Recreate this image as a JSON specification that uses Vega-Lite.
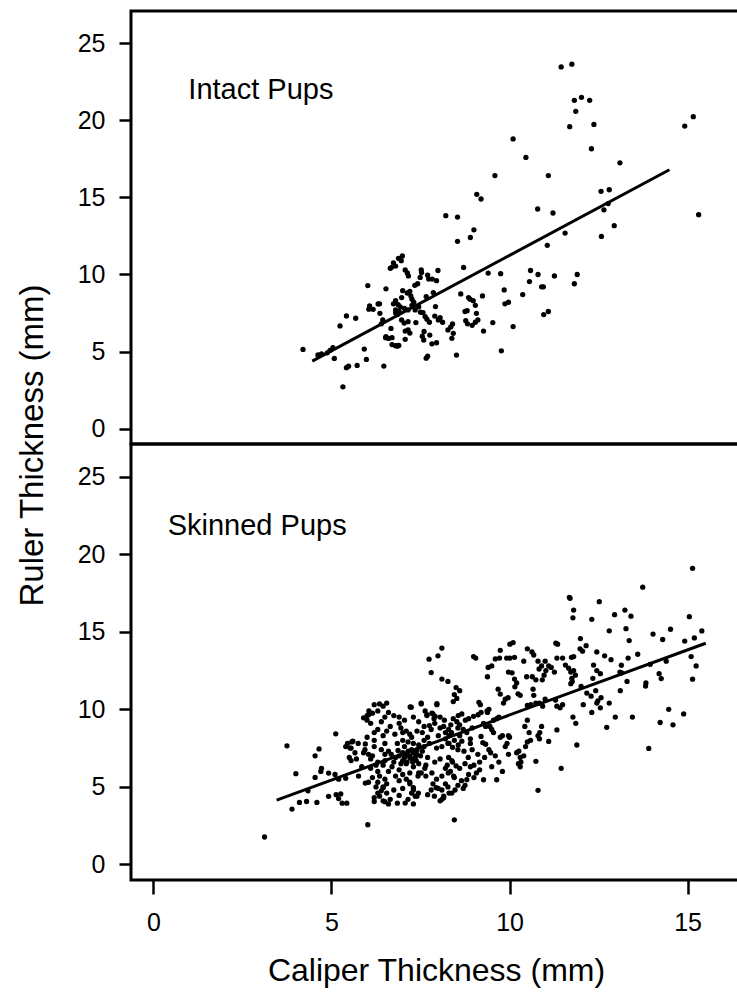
{
"$schema": "https://vega.github.io/schema/vega-lite/v6.json",
"background": "white",
"padding": {"left": 14, "top": 9, "right": 0, "bottom": 0},
"spacing": 0,
"bounds": "flush",
"config": {
  "view": {"stroke": "black", "strokeWidth": 3},
  "font": "Liberation Sans",
  "axis": {"grid": false, "domain": false, "tickColor": "black", "tickWidth": 2.5, "labelColor": "black", "labelFont": "Liberation Sans", "titleFont": "Liberation Sans", "titleColor": "black", "titleFontWeight": "normal", "labelFontSize": 25}
},
"datasets": {
"intact": [
{"x":4.20,"y":5.14},{"x":4.62,"y":4.78},{"x":4.72,"y":4.85},{"x":4.88,"y":4.92},{"x":4.96,"y":5.08},{"x":5.04,"y":5.25},{"x":5.08,"y":4.55},{"x":5.24,"y":6.66},{"x":5.42,"y":7.31},{"x":5.68,"y":7.16},{"x":5.32,"y":2.71},{"x":5.42,"y":3.95},{"x":5.48,"y":4.05},{"x":5.72,"y":4.1},{"x":5.92,"y":5.16},{"x":5.98,"y":4.49},{"x":6.02,"y":9.28},{"x":6.07,"y":7.96},{"x":6.17,"y":7.74},{"x":6.31,"y":8.09},{"x":6.36,"y":7.48},{"x":6.44,"y":7.05},{"x":6.47,"y":4.06},{"x":6.53,"y":9.07},{"x":6.53,"y":5.97},{"x":6.6,"y":5.85},{"x":6.68,"y":10.45},{"x":6.8,"y":10.55},{"x":6.88,"y":11.05},{"x":6.96,"y":10.9},{"x":6.99,"y":11.2},{"x":6.7,"y":5.45},{"x":6.8,"y":5.38},{"x":6.89,"y":5.4},{"x":6.74,"y":8.1},{"x":6.8,"y":8.3},{"x":6.87,"y":8.05},{"x":6.93,"y":7.9},{"x":6.97,"y":8.5},{"x":6.85,"y":7.4},{"x":6.8,"y":7.5},{"x":6.97,"y":7.05},{"x":7.04,"y":6.85},{"x":6.67,"y":6.5},{"x":7.07,"y":10.3},{"x":7.13,"y":10.1},{"x":7.07,"y":5.79},{"x":7.07,"y":6.33},{"x":7.15,"y":6.94},{"x":7.15,"y":7.7},{"x":7.26,"y":8.0},{"x":7.31,"y":8.2},{"x":7.23,"y":8.6},{"x":7.26,"y":8.4},{"x":7.34,"y":9.3},{"x":7.42,"y":9.4},{"x":7.16,"y":9.91},{"x":7.37,"y":6.88},{"x":7.49,"y":9.81},{"x":7.53,"y":10.13},{"x":7.57,"y":7.53},{"x":7.59,"y":5.75},{"x":7.66,"y":4.57},{"x":7.7,"y":4.7},{"x":7.63,"y":7.27},{"x":7.66,"y":8.57},{"x":7.73,"y":9.7},{"x":7.83,"y":9.7},{"x":7.76,"y":6.07},{"x":7.86,"y":8.83},{"x":7.92,"y":7.92},{"x":7.95,"y":5.57},{"x":7.99,"y":10.26},{"x":8.05,"y":7.2},{"x":8.12,"y":6.9},{"x":8.21,"y":13.82},{"x":8.27,"y":6.4},{"x":8.35,"y":6.6},{"x":8.4,"y":6.79},{"x":8.38,"y":5.86},{"x":8.42,"y":6.18},{"x":8.51,"y":4.77},{"x":8.54,"y":12.15},{"x":8.54,"y":13.73},{"x":8.63,"y":8.74},{"x":8.71,"y":10.46},{"x":8.75,"y":7.6},{"x":8.81,"y":7.65},{"x":8.77,"y":7.0},{"x":8.82,"y":6.8},{"x":8.85,"y":8.5},{"x":8.89,"y":8.4},{"x":8.9,"y":12.4},{"x":9.0,"y":12.9},{"x":8.98,"y":8.3},{"x":9.04,"y":8.0},{"x":8.95,"y":6.7},{"x":9.04,"y":6.9},{"x":9.08,"y":15.2},{"x":9.2,"y":14.9},{"x":9.07,"y":7.48},{"x":9.11,"y":7.05},{"x":9.27,"y":6.33},{"x":9.24,"y":8.61},{"x":9.4,"y":10.09},{"x":9.53,"y":6.88},{"x":9.59,"y":16.42},{"x":9.75,"y":10.05},{"x":9.77,"y":5.05},{"x":9.85,"y":9.0},{"x":9.87,"y":8.1},{"x":9.97,"y":8.2},{"x":10.1,"y":6.62},{"x":10.1,"y":18.8},{"x":10.37,"y":8.7},{"x":10.46,"y":17.6},{"x":10.59,"y":10.26},{"x":10.56,"y":9.54},{"x":10.79,"y":14.25},{"x":10.8,"y":10.0},{"x":10.9,"y":9.2},{"x":10.95,"y":9.2},{"x":10.96,"y":7.4},{"x":11.09,"y":7.6},{"x":11.09,"y":16.42},{"x":11.06,"y":11.89},{"x":11.22,"y":13.99},{"x":11.26,"y":9.91},{"x":11.45,"y":23.47},{"x":11.75,"y":23.65},{"x":11.56,"y":12.69},{"x":11.69,"y":19.59},{"x":11.82,"y":21.3},{"x":12.02,"y":21.5},{"x":12.25,"y":21.3},{"x":11.86,"y":20.59},{"x":11.82,"y":9.4},{"x":11.9,"y":10.0},{"x":12.3,"y":18.16},{"x":12.37,"y":19.74},{"x":12.57,"y":15.4},{"x":12.8,"y":15.5},{"x":12.58,"y":12.47},{"x":12.65,"y":14.2},{"x":12.77,"y":14.6},{"x":12.94,"y":13.17},{"x":13.1,"y":17.25},{"x":14.92,"y":19.63},{"x":15.16,"y":20.24},{"x":15.31,"y":13.88},
{"x":6.65,"y":10.4},{"x":6.74,"y":10.75},{"x":7.0,"y":8.95},{"x":7.13,"y":8.8},{"x":7.2,"y":8.9},{"x":6.8,"y":7.7},{"x":6.9,"y":7.6},{"x":7.05,"y":7.8},{"x":7.35,"y":7.7},{"x":7.45,"y":7.9},{"x":7.5,"y":7.55},{"x":7.68,"y":7.1},{"x":7.75,"y":6.9},{"x":7.9,"y":7.3},{"x":8.0,"y":7.05},{"x":7.15,"y":6.4},{"x":7.2,"y":6.2},{"x":7.55,"y":6.0},{"x":7.6,"y":6.3},{"x":7.82,"y":5.5},{"x":7.7,"y":9.95},{"x":7.95,"y":9.6},{"x":7.52,"y":10.3},{"x":6.05,"y":7.75},{"x":6.35,"y":8.1},{"x":6.4,"y":6.8},{"x":6.52,"y":5.9},{"x":6.7,"y":5.9},{"x":6.85,"y":5.35}
],
"skinned": [
{"x":3.12,"y":1.77},{"x":3.75,"y":7.65},{"x":3.89,"y":3.57},{"x":4.0,"y":5.85},{"x":4.1,"y":4.0},{"x":4.3,"y":4.06},{"x":4.54,"y":7.0},{"x":4.65,"y":7.45},{"x":4.59,"y":4.0},{"x":4.34,"y":4.75},{"x":4.54,"y":5.61},{"x":4.7,"y":6.0},{"x":4.72,"y":6.2},{"x":4.92,"y":5.89},{"x":4.92,"y":4.39},{"x":5.1,"y":5.8},{"x":5.12,"y":8.42},{"x":5.13,"y":4.5},{"x":5.26,"y":4.55},{"x":5.2,"y":4.25},{"x":5.3,"y":3.95},{"x":5.2,"y":5.5},{"x":5.4,"y":5.55},{"x":5.43,"y":3.95},{"x":5.4,"y":7.6},{"x":5.45,"y":7.8},{"x":5.55,"y":7.5},{"x":5.6,"y":7.95},{"x":5.76,"y":5.7},{"x":5.9,"y":7.2},{"x":5.95,"y":7.77},{"x":5.95,"y":5.25},{"x":6.04,"y":5.3},{"x":6.02,"y":2.56},{"x":6.0,"y":9.6},{"x":6.05,"y":9.9},{"x":6.15,"y":9.75},{"x":6.2,"y":10.3},{"x":6.35,"y":10.35},{"x":6.45,"y":10.2},{"x":6.55,"y":10.4},{"x":6.2,"y":4.06},{"x":6.3,"y":4.6},{"x":6.4,"y":4.75},{"x":6.45,"y":4.95},
{"x":5.9,"y":9.45},{"x":6.04,"y":9.65},{"x":6.0,"y":9.3},{"x":7.21,"y":10.15},{"x":7.52,"y":10.35},{"x":7.96,"y":10.3},{"x":6.9,"y":9.1},{"x":6.95,"y":8.8},{"x":7.1,"y":8.6},{"x":7.2,"y":8.4},{"x":7.25,"y":8.2},{"x":7.0,"y":8.5},{"x":6.2,"y":8.5},{"x":6.3,"y":8.7},{"x":6.45,"y":8.3},{"x":6.55,"y":8.6},{"x":6.65,"y":8.9},{"x":6.78,"y":8.4},{"x":7.63,"y":9.9},{"x":7.68,"y":9.6},{"x":7.85,"y":9.7},{"x":7.88,"y":9.4},{"x":7.8,"y":8.7},{"x":8.05,"y":8.8},{"x":8.2,"y":8.5},{"x":8.3,"y":8.3},{"x":5.57,"y":7.9},{"x":5.75,"y":7.8},{"x":5.52,"y":7.5},{"x":5.66,"y":7.2},{"x":5.94,"y":7.4},{"x":6.04,"y":7.1},{"x":5.5,"y":6.9},{"x":5.55,"y":6.7},{"x":6.2,"y":7.6},{"x":6.4,"y":7.4},{"x":6.5,"y":7.8},{"x":6.15,"y":7.0},{"x":6.3,"y":6.6},{"x":6.5,"y":6.7},{"x":6.68,"y":7.1},{"x":6.87,"y":7.35},{"x":7.05,"y":7.6},{"x":7.25,"y":7.4},{"x":6.1,"y":6.2},{"x":6.3,"y":6.0},{"x":6.45,"y":6.4},{"x":6.35,"y":5.7},{"x":6.15,"y":5.6},{"x":6.3,"y":5.3},{"x":6.7,"y":6.3},{"x":6.9,"y":6.1},{"x":7.1,"y":6.5},{"x":7.3,"y":6.3},{"x":7.45,"y":6.5},{"x":7.2,"y":6.9},{"x":7.4,"y":7.1},{"x":7.6,"y":7.6},{"x":7.75,"y":7.8},{"x":7.95,"y":7.5},{"x":8.1,"y":7.6},{"x":8.3,"y":7.8},{"x":8.45,"y":8.0},{"x":7.7,"y":6.9},{"x":7.9,"y":6.6},{"x":8.05,"y":6.8},{"x":8.25,"y":6.4},{"x":8.4,"y":6.6},{"x":6.55,"y":5.2},{"x":6.75,"y":4.8},{"x":6.65,"y":4.2},{"x":6.5,"y":4.05},{"x":6.6,"y":3.9},{"x":6.45,"y":4.1},{"x":7.2,"y":5.3},{"x":7.3,"y":4.8},{"x":7.25,"y":4.6},{"x":7.4,"y":4.4},{"x":7.45,"y":5.9},{"x":7.65,"y":5.7},{"x":7.82,"y":5.9},{"x":7.95,"y":5.5},{"x":8.1,"y":5.7},{"x":8.28,"y":5.9},{"x":8.45,"y":5.6},{"x":8.0,"y":4.9},{"x":8.15,"y":4.4},{"x":8.3,"y":4.6},{"x":8.1,"y":4.2},{"x":7.07,"y":3.96},
{"x":11.68,"y":17.22},{"x":11.8,"y":16.4},{"x":11.78,"y":15.9},{"x":7.74,"y":13.23},{"x":7.99,"y":13.45},{"x":8.1,"y":13.95},{"x":7.8,"y":12.37},{"x":8.1,"y":11.95},{"x":8.27,"y":11.8},{"x":8.99,"y":13.4},{"x":9.05,"y":13.3},{"x":8.5,"y":11.4},{"x":8.6,"y":11.2},{"x":8.45,"y":10.95},{"x":8.52,"y":10.7},{"x":8.42,"y":10.5},{"x":7.24,"y":10.14},{"x":7.52,"y":10.4},{"x":7.96,"y":10.36},{"x":9.14,"y":10.45},{"x":9.18,"y":10.3},{"x":9.42,"y":10.0},{"x":9.38,"y":9.8},{"x":9.4,"y":12.7},{"x":9.5,"y":12.8},{"x":9.38,"y":12.1},{"x":9.6,"y":13.25},{"x":9.72,"y":13.3},{"x":9.74,"y":13.8},{"x":9.92,"y":13.3},{"x":10.01,"y":13.3},{"x":10.14,"y":13.35},{"x":10.01,"y":14.2},{"x":10.1,"y":14.3},{"x":9.97,"y":12.4},{"x":10.07,"y":12.35},{"x":10.14,"y":11.95},{"x":10.2,"y":11.7},{"x":10.15,"y":11.45},{"x":9.68,"y":11.3},{"x":9.74,"y":10.98},{"x":9.88,"y":10.65},{"x":9.96,"y":10.75},{"x":9.83,"y":10.4},{"x":10.24,"y":11.0},{"x":10.3,"y":10.9},{"x":10.4,"y":13.1},{"x":10.5,"y":13.9},{"x":10.63,"y":13.7},{"x":10.68,"y":13.5},{"x":10.48,"y":12.1},{"x":10.64,"y":12.1},{"x":10.74,"y":11.9},{"x":10.66,"y":11.3},{"x":10.68,"y":10.9},{"x":10.8,"y":13.1},{"x":10.9,"y":12.8},{"x":11.0,"y":13.1},{"x":10.83,"y":12.6},{"x":11.02,"y":12.5},{"x":10.97,"y":12.2},{"x":10.92,"y":11.9},{"x":11.1,"y":12.8},{"x":11.17,"y":12.7},{"x":11.26,"y":12.4},{"x":11.0,"y":10.66},{"x":11.3,"y":14.26},{"x":11.35,"y":14.2},{"x":11.33,"y":13.3},{"x":11.49,"y":13.3},{"x":11.57,"y":12.85},{"x":11.66,"y":12.65},{"x":11.8,"y":12.5},{"x":11.75,"y":12.0},{"x":11.85,"y":12.2},{"x":11.8,"y":13.4},{"x":11.78,"y":9.5},{"x":11.86,"y":9.1},{"x":11.89,"y":7.7},{"x":11.33,"y":10.2},{"x":11.42,"y":10.1},{"x":11.49,"y":10.3},{"x":11.29,"y":10.6},{"x":10.5,"y":10.25},{"x":10.6,"y":10.3},{"x":10.74,"y":10.4},{"x":10.84,"y":10.4},{"x":10.93,"y":10.2},{"x":10.5,"y":9.3},{"x":10.43,"y":8.9},{"x":10.55,"y":8.5},{"x":10.5,"y":7.9},{"x":10.59,"y":8.0},{"x":10.45,"y":7.6},{"x":10.4,"y":7.0},{"x":10.3,"y":6.9},{"x":10.25,"y":6.5},{"x":10.3,"y":6.3},{"x":10.8,"y":8.3},{"x":10.85,"y":8.5},{"x":10.9,"y":8.9},{"x":10.84,"y":8.1},{"x":11.1,"y":7.93},{"x":11.33,"y":8.67},{"x":10.74,"y":6.64},{"x":11.45,"y":6.2},{"x":10.8,"y":4.78},{"x":10.2,"y":7.2},{"x":10.26,"y":7.3},{"x":10.32,"y":6.6},{"x":9.97,"y":8.3},{"x":10.0,"y":8.2},{"x":9.8,"y":8.3},{"x":9.74,"y":8.2},{"x":9.97,"y":7.1},{"x":9.88,"y":7.6},{"x":9.93,"y":7.8},{"x":9.5,"y":8.7},{"x":9.55,"y":8.5},{"x":9.45,"y":8.9},{"x":9.55,"y":9.3},{"x":9.64,"y":9.4},{"x":9.7,"y":9.5},{"x":9.27,"y":9.1},{"x":9.33,"y":8.9},{"x":9.2,"y":8.25},{"x":9.25,"y":7.85},{"x":9.33,"y":7.75},{"x":9.42,"y":7.4},{"x":9.47,"y":7.2},{"x":9.11,"y":7.1},{"x":9.16,"y":6.6},{"x":9.16,"y":6.1},{"x":9.07,"y":5.9},{"x":9.0,"y":5.6},{"x":9.27,"y":5.46},{"x":9.64,"y":5.46},{"x":8.8,"y":5.46},{"x":8.75,"y":5.1},{"x":8.7,"y":4.9},{"x":8.45,"y":2.88},{"x":8.9,"y":7.8},{"x":8.95,"y":7.4},{"x":8.84,"y":6.9},{"x":8.6,"y":8.3},{"x":8.66,"y":7.95},{"x":8.56,"y":7.7},{"x":8.55,"y":7.4},{"x":8.72,"y":7.3},{"x":8.29,"y":8.7},{"x":8.37,"y":8.5},{"x":8.2,"y":8.1},{"x":8.27,"y":7.8},{"x":8.4,"y":7.55},{"x":8.76,"y":9.3},{"x":8.85,"y":9.4},{"x":8.95,"y":8.8},{"x":9.12,"y":9.65},{"x":8.99,"y":9.55},{"x":9.2,"y":9.8},{"x":9.37,"y":9.9},{"x":8.56,"y":9.6},{"x":8.66,"y":9.7},{"x":8.52,"y":9.2},{"x":8.42,"y":9.4},{"x":8.05,"y":9.5},{"x":8.17,"y":9.3},{"x":7.91,"y":9.55},{"x":7.82,"y":9.75},{"x":7.68,"y":9.65},
{"x":8.29,"y":6.9},{"x":8.38,"y":6.7},{"x":8.2,"y":6.2},{"x":8.34,"y":6.0},{"x":8.43,"y":5.7},{"x":8.2,"y":5.2},{"x":8.27,"y":5.0},{"x":8.1,"y":4.8},{"x":8.38,"y":4.6},{"x":8.47,"y":4.8},{"x":8.15,"y":4.3},{"x":8.05,"y":4.1},{"x":7.85,"y":5.2},{"x":7.94,"y":4.95},{"x":7.8,"y":4.8},{"x":7.7,"y":4.5},{"x":7.89,"y":4.4},{"x":7.35,"y":4.4},{"x":7.44,"y":4.6},{"x":7.3,"y":4.95},{"x":7.2,"y":5.2},{"x":7.52,"y":5.9},{"x":7.62,"y":6.2},{"x":7.43,"y":5.7},
{"x":15.14,"y":19.09},{"x":13.74,"y":17.87},{"x":12.52,"y":16.94},{"x":11.7,"y":17.16},{"x":12.31,"y":15.8},{"x":12.95,"y":16.1},{"x":13.24,"y":16.4},{"x":13.41,"y":16.0},{"x":13.27,"y":15.2},{"x":12.8,"y":15.06},{"x":11.99,"y":14.56},{"x":14.03,"y":14.85},{"x":14.52,"y":15.16},{"x":15.05,"y":15.97},{"x":15.4,"y":15.05},{"x":15.19,"y":14.6},{"x":14.92,"y":14.4},{"x":14.3,"y":14.5},{"x":13.36,"y":14.43},{"x":12.15,"y":14.1},{"x":11.98,"y":13.9},{"x":12.05,"y":13.75},{"x":11.74,"y":13.35},{"x":12.45,"y":13.7},{"x":12.67,"y":13.45},{"x":12.85,"y":13.2},{"x":12.36,"y":12.85},{"x":12.45,"y":12.5},{"x":12.55,"y":12.3},{"x":12.34,"y":12.0},{"x":13.33,"y":13.3},{"x":13.6,"y":13.55},{"x":13.14,"y":12.84},{"x":13.1,"y":12.4},{"x":13.15,"y":12.35},{"x":13.95,"y":12.9},{"x":14.4,"y":13.1},{"x":15.1,"y":13.4},{"x":15.24,"y":12.8},{"x":14.2,"y":12.3},{"x":14.26,"y":11.98},{"x":15.14,"y":11.94},{"x":13.83,"y":11.7},{"x":13.82,"y":11.5},{"x":13.3,"y":11.8},{"x":13.11,"y":11.2},{"x":11.72,"y":12.4},{"x":11.76,"y":11.8},{"x":11.72,"y":11.65},{"x":12.01,"y":11.47},{"x":12.17,"y":11.05},{"x":12.29,"y":10.85},{"x":12.42,"y":11.2},{"x":12.48,"y":10.55},{"x":12.57,"y":10.75},{"x":12.55,"y":10.1},{"x":12.45,"y":10.4},{"x":12.07,"y":10.3},{"x":12.31,"y":9.8},{"x":12.8,"y":10.4},{"x":12.97,"y":9.5},{"x":13.45,"y":9.5},{"x":12.73,"y":8.84},{"x":14.47,"y":10.0},{"x":14.89,"y":9.7},{"x":14.23,"y":9.15},{"x":14.59,"y":9.0},{"x":13.91,"y":7.48},
{"x":6.9,"y":7.0},{"x":7.0,"y":7.2},{"x":7.05,"y":6.9},{"x":7.1,"y":7.1},{"x":7.15,"y":7.3},{"x":7.2,"y":7.0},{"x":7.25,"y":6.8},{"x":7.3,"y":7.2},{"x":7.35,"y":6.9},{"x":7.4,"y":7.4},{"x":7.0,"y":6.7},{"x":6.95,"y":6.5},{"x":7.12,"y":6.6},{"x":7.28,"y":6.6},{"x":7.38,"y":6.7},{"x":7.5,"y":7.0},{"x":7.55,"y":7.3},{"x":7.45,"y":7.7},{"x":7.3,"y":7.8},{"x":7.15,"y":7.9},{"x":7.0,"y":8.0},{"x":6.85,"y":7.8},{"x":6.8,"y":6.9},{"x":6.75,"y":6.6},{"x":7.6,"y":8.0},{"x":7.7,"y":8.2},{"x":7.55,"y":8.5},{"x":7.4,"y":8.6},{"x":7.65,"y":6.4},{"x":6.6,"y":7.3},{"x":6.5,"y":7.1},{"x":6.6,"y":6.0},{"x":6.8,"y":5.7},{"x":7.0,"y":5.8},{"x":7.2,"y":5.9},{"x":7.1,"y":5.5},{"x":6.9,"y":5.4},{"x":6.4,"y":9.2},{"x":6.5,"y":9.5},{"x":6.6,"y":9.8},{"x":6.75,"y":9.6},{"x":6.3,"y":9.9},{"x":6.1,"y":9.1},{"x":6.9,"y":9.5},{"x":7.05,"y":9.3},{"x":7.3,"y":9.5},{"x":7.45,"y":9.2},{"x":7.6,"y":8.9},{"x":7.75,"y":8.95},{"x":6.2,"y":8.0},{"x":6.0,"y":8.2},{"x":6.1,"y":6.8},{"x":5.85,"y":6.3},{"x":5.7,"y":6.8},{"x":6.25,"y":6.4},{"x":6.45,"y":5.0},{"x":6.2,"y":4.3},{"x":6.35,"y":4.4},{"x":6.55,"y":4.6},{"x":6.9,"y":4.45},{"x":7.0,"y":4.9},{"x":7.15,"y":4.2},{"x":7.3,"y":3.9},{"x":6.85,"y":3.95},{"x":6.25,"y":5.0},{"x":6.5,"y":5.5},{"x":8.0,"y":8.3},{"x":8.15,"y":8.9},{"x":7.9,"y":9.1},{"x":8.35,"y":9.0},{"x":8.6,"y":9.0},{"x":8.55,"y":8.8},{"x":8.8,"y":8.5},{"x":8.9,"y":8.1},{"x":8.7,"y":8.7},{"x":8.75,"y":6.5},{"x":8.6,"y":6.2},{"x":8.9,"y":6.3},{"x":8.5,"y":6.35},{"x":8.85,"y":5.8},{"x":8.65,"y":5.4},{"x":8.55,"y":5.1},{"x":9.0,"y":6.4},{"x":9.3,"y":6.9},{"x":9.6,"y":7.0},{"x":9.7,"y":6.6},{"x":9.8,"y":6.0},{"x":9.5,"y":6.3}
],
"fitIntact": [{"x":4.46,"y":4.38},{"x":14.49,"y":16.8}],
"fitSkinned": [{"x":3.46,"y":4.15},{"x":15.51,"y":14.26}],
"labelIntact": [{"x":0.98,"y":21.36,"label":"Intact Pups"}],
"labelSkinned": [{"x":0.40,"y":21.24,"label":"Skinned Pups"}]
},
"vconcat": [
{
  "width": 610,
  "height": 433,
  "layer": [
    {"data": {"name": "intact"}, "mark": {"type": "circle", "size": 28, "color": "black", "opacity": 1},
     "encoding": {
       "x": {"field": "x", "type": "quantitative", "scale": {"domain": [-0.63, 16.5], "nice": false, "zero": false}, "axis": null},
       "y": {"field": "y", "type": "quantitative", "scale": {"domain": [-1, 27.1], "nice": false, "zero": false},
             "axis": {"values": [0,5,10,15,20,25], "tickSize": 12, "labelPadding": 14, "title": "Ruler Thickness (mm)", "titleFontSize": 33, "titleX": -89, "titleY": 434, "titleBaseline": "alphabetic", "titleAngle": -90}}
     }},
    {"data": {"name": "fitIntact"}, "mark": {"type": "line", "color": "black", "strokeWidth": 3},
     "encoding": {"x": {"field": "x", "type": "quantitative"}, "y": {"field": "y", "type": "quantitative"}}},
    {"data": {"name": "labelIntact"}, "mark": {"type": "text", "align": "left", "baseline": "alphabetic", "fontSize": 29, "font": "Liberation Sans", "color": "black"},
     "encoding": {"x": {"field": "x", "type": "quantitative"}, "y": {"field": "y", "type": "quantitative"}, "text": {"field": "label"}}}
  ]
},
{
  "width": 610,
  "height": 436,
  "layer": [
    {"data": {"name": "skinned"}, "mark": {"type": "circle", "size": 28, "color": "black", "opacity": 1},
     "encoding": {
       "x": {"field": "x", "type": "quantitative", "scale": {"domain": [-0.63, 16.5], "nice": false, "zero": false},
             "axis": {"values": [0,5,10,15], "tickSize": 14, "labelPadding": 16, "title": "Caliper Thickness (mm)", "titleFontSize": 32, "titlePadding": 20}},
       "y": {"field": "y", "type": "quantitative", "scale": {"domain": [-1, 27.1], "nice": false, "zero": false},
             "axis": {"values": [0,5,10,15,20,25], "tickSize": 12, "labelPadding": 14, "title": null}}
     }},
    {"data": {"name": "fitSkinned"}, "mark": {"type": "line", "color": "black", "strokeWidth": 3},
     "encoding": {"x": {"field": "x", "type": "quantitative"}, "y": {"field": "y", "type": "quantitative"}}},
    {"data": {"name": "labelSkinned"}, "mark": {"type": "text", "align": "left", "baseline": "alphabetic", "fontSize": 29, "font": "Liberation Sans", "color": "black"},
     "encoding": {"x": {"field": "x", "type": "quantitative"}, "y": {"field": "y", "type": "quantitative"}, "text": {"field": "label"}}}
  ]
}
]
}
